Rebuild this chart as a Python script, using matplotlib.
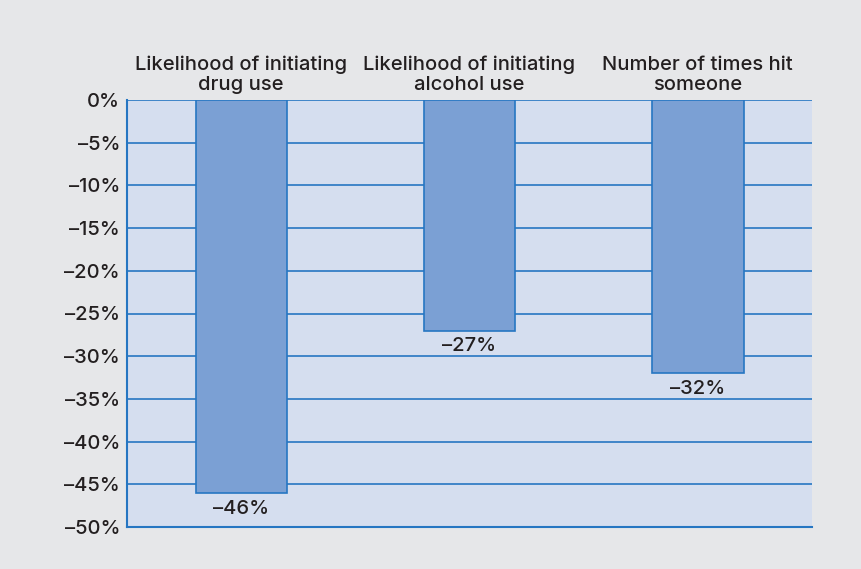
import matplotlib
matplotlib.use("Agg")
import matplotlib.pyplot as plt
from matplotlib.transforms import offset_copy

categories = ["Likelihood of initiating\ndrug use",
              "Likelihood of initiating\nalcohol use",
              "Number of times hit\nsomeone"]
values = [-46, -27, -32]
y_ticks = [0, -5, -10, -15, -20, -25, -30, -35, -40, -45, -50]
y_tick_labels = ["0%"] + [f"\u2013{abs(t)}%" for t in y_ticks[1:]]

plt.rcParams["font.family"] = ["Inter", "DejaVu Sans"]
FS = 14.5
TXT = "#231f20"

fig = plt.figure(figsize=(8.61, 5.69), dpi=100, facecolor="#e6e7e9")
ax = fig.add_axes([127 / 861, 1 - 527 / 569, (812 - 127) / 861, (527 - 100) / 569])
ax.set_facecolor("#d5deef")

blue = "#2676c2"
x = list(range(len(categories)))
ax.bar(x, values, width=0.40, color="#7ba0d4", edgecolor=blue, linewidth=1.2, zorder=3)

ax.set_xlim(-0.5, 2.5)
ax.set_ylim(-50, 0)
ax.set_yticks(y_ticks)
ax.set_yticklabels(y_tick_labels, fontsize=FS, color=TXT, fontweight="medium")
ax.tick_params(axis="y", length=0, pad=5)
ax.set_xticks([])
ax.grid(axis="y", color=blue, linewidth=1.2, zorder=1)

for side in ["top", "right"]:
    ax.spines[side].set_visible(False)
for side in ["left", "bottom"]:
    ax.spines[side].set_color(blue)
    ax.spines[side].set_linewidth(1.5)

top_trans = offset_copy(ax.get_xaxis_transform(), fig=fig, x=0, y=4, units="points")
for xi, cat in zip(x, categories):
    ax.text(xi, 1.0, cat, ha="center", va="bottom", fontsize=FS,
            color=TXT, linespacing=1.2, transform=top_trans,
            fontweight="medium")

for xi, v in zip(x, values):
    ax.text(xi, v - 0.8, f"\u2013{abs(v)}%", ha="center", va="top",
            fontsize=FS, color=TXT, fontweight="medium", zorder=4)

fig.savefig("out.png", dpi=100, facecolor=fig.get_facecolor())
